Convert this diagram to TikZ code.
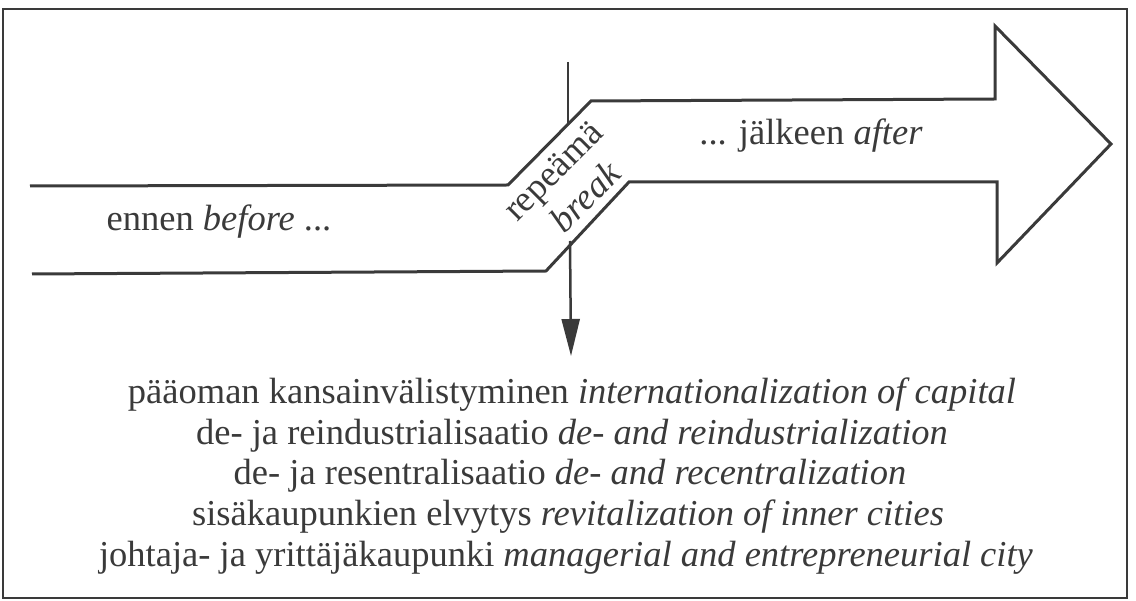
\documentclass[tikz,border=0pt]{standalone}
\usepackage{fontspec}
\setmainfont{Liberation Serif}
\usetikzlibrary{arrows.meta}
\definecolor{ink}{HTML}{3A3A3A}
\tikzset{
  outline/.style={draw=ink, line width=3pt, line join=miter},
  frame/.style={draw=ink, line width=1.5pt},
  label/.style={text=ink, font=\fontsize{36.5}{40}\selectfont, inner sep=0pt, anchor=base},
  breakline/.style={draw=ink, line width=2.5pt},
  breakarrow/.style={breakline, -{Triangle[length=37pt,width=18pt]}},
}
\begin{document}
\begin{tikzpicture}[x=1pt,y=-1pt]
\useasboundingbox (0,0) rectangle (1136,601);
\draw[frame] (3,9) rectangle (1127,598);
% big arrow outline
\coordinate (a1) at (30,186);
\coordinate (a2) at (508,185);
\coordinate (a3) at (591,101);
\coordinate (a4) at (995,99);
\coordinate (a5) at (995,26);
\coordinate (a6) at (1111,144);
\coordinate (a7) at (997,263);
\coordinate (a8) at (997,182);
\coordinate (a9) at (629,182);
\coordinate (a10) at (546,271);
\coordinate (a11) at (32,274);
\draw[outline] (a1) -- (a2) -- (a3) -- (a4) -- (a5) -- (a6) -- (a7) -- (a8) -- (a9) -- (a10) -- (a11);
% break line
\coordinate (b0) at (568,62);
\coordinate (b1) at (568,125);
\coordinate (b2) at (570,241);
\coordinate (b3) at (571,356);
\draw[breakline] (b0) -- (b1);
\draw[breakarrow] (b2) -- (b3);
% labels
\node[label] (before) at (219,231) {ennen \textit{before} ...};
\node[label] (after) at (811,145) {... jälkeen \textit{after}};
\node[label, rotate=45] (brk1) at (561,179) {repeämä};
\node[label, rotate=45] (brk2) at (594,205) {\textit{break}};
\node[label] (l1) at (572,404) {pääoman kansainvälistyminen \textit{internationalization of capital}};
\node[label] (l2) at (572,444.5) {de- ja reindustrialisaatio \textit{de- and reindustrialization}};
\node[label] (l3) at (570,485) {de- ja resentralisaatio \textit{de- and recentralization}};
\node[label] (l4) at (568,525.5) {sisäkaupunkien elvytys \textit{revitalization of inner cities}};
\node[label] (l5) at (566,566) {johtaja- ja yrittäjäkaupunki \textit{managerial and entrepreneurial city}};
\end{tikzpicture}
\end{document}
